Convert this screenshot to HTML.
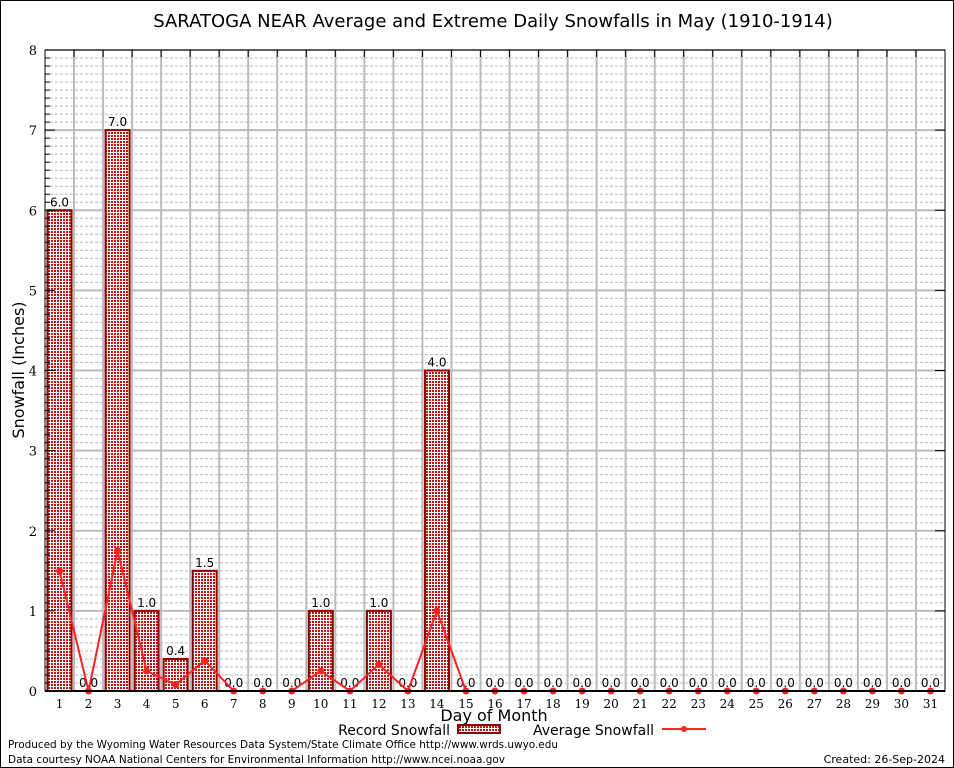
<!DOCTYPE html>
<html><head><meta charset="utf-8"><style>
body{margin:0;background:#fff}
svg{display:block;font-family:"DejaVu Sans","Liberation Sans",sans-serif}
</style></head><body>
<svg width="954" height="768" viewBox="0 0 954 768">
<defs>
<pattern id="chk" width="3" height="3" patternUnits="userSpaceOnUse">
<rect width="3" height="3" fill="#fff"/>
<rect width="2" height="2" fill="#c41010"/>
</pattern>
</defs>
<rect x="0.5" y="0.5" width="953" height="767" fill="#fff" stroke="#000"/>
<text x="493" y="27" font-size="18" text-anchor="middle">SARATOGA NEAR Average and Extreme Daily Snowfalls in May (1910-1914)</text>
<g id="grid"></g>
<g id="bars"></g>
<g id="line"></g>
<g id="axes"></g>
<text x="24" y="370" font-size="16" text-anchor="middle" transform="rotate(-90 24 370)">Snowfall (Inches)</text>
<text x="494" y="721" font-size="16" text-anchor="middle">Day of Month</text>
<g>
<text x="450" y="735" font-size="14" text-anchor="end">Record Snowfall</text>
<rect x="458" y="725" width="42" height="8" fill="url(#chk)" stroke="#8b0000" stroke-width="2"/>
<text x="654" y="735" font-size="14" text-anchor="end">Average Snowfall</text>
<line x1="662" y1="729" x2="706" y2="729" stroke="#f22" stroke-width="2"/>
<circle cx="684" cy="729" r="3" fill="#f22"/>
</g>
<text x="8" y="748" font-size="11" textLength="550" lengthAdjust="spacingAndGlyphs">Produced by the Wyoming Water Resources Data System/State Climate Office http://www.wrds.uwyo.edu</text>
<text x="8" y="763" font-size="11" textLength="497" lengthAdjust="spacingAndGlyphs">Data courtesy NOAA National Centers for Environmental Information http://www.ncei.noaa.gov</text>
<text x="945" y="763" font-size="11" text-anchor="end">Created: 26-Sep-2024</text>
</svg>
<script>
const days=[1,2,3,4,5,6,7,8,9,10,11,12,13,14,15,16,17,18,19,20,21,22,23,24,25,26,27,28,29,30,31];
const recordSnow=[6.0,0,7.0,1.0,0.4,1.5,0,0,0,1.0,0,1.0,0,4.0,0,0,0,0,0,0,0,0,0,0,0,0,0,0,0,0,0];
const avgSnow=[1.5,0,1.75,0.25,0.08,0.38,0,0,0,0.25,0,0.33,0,1.0,0,0,0,0,0,0,0,0,0,0,0,0,0,0,0,0,0];
const yTicks=[0,1,2,3,4,5,6,7,8];
const L=45,R=945,T=50,B=691,yMax=8;
const slot=(R-L)/days.length;
const xs=i=>L+slot*(i+0.5);
const ys=v=>B-(v/yMax)*(B-T);
const NS="http://www.w3.org/2000/svg";
function mk(tag,parent,attrs){const e=document.createElementNS(NS,tag);for(const k in attrs)e.setAttribute(k,attrs[k]);document.getElementById(parent).appendChild(e);return e;}
for(let m=1;m<yMax*10;m++){if(m%10===0)continue;const y=ys(m/10);
const e=mk('line','grid',{x1:L,x2:R,y1:y,y2:y,stroke:'#bbb','stroke-dasharray':'3,2','stroke-width':1});


const t=mk('line','axes',{x1:L,x2:L+5,y1:y,y2:y,stroke:'#000'});

}
yTicks.forEach(v=>{const y=ys(v);
const g=mk('line','grid',{x1:L,x2:R,y1:y,y2:y,stroke:'#bbb','stroke-width':2});


const t=mk('line','axes',{x1:L,x2:L+10,y1:y,y2:y,stroke:'#000'});


const t2=mk('line','axes',{x1:R-10,x2:R,y1:y,y2:y,stroke:'#000'});


const lb=mk('text','axes',{x:L-8,y:y+5,'font-size':13,'text-anchor':'end','font-family':'DejaVu Serif, serif'});
lb.textContent=v;

});
for(let i=1;i<days.length;i++){const x=L+slot*i;
const g=mk('line','grid',{x1:x,x2:x,y1:T,y2:B,stroke:'#bbb','stroke-width':2});


const t=mk('line','axes',{x1:x,x2:x,y1:T,y2:T+7,stroke:'#000'});

}
days.forEach((d,i)=>{const x=xs(i);const v=recordSnow[i];
if(v>0){const b=mk('rect','bars',{x:x-12,y:ys(v),width:24,height:B-ys(v),fill:'url(#chk)',stroke:'#8b0000','stroke-width':2});

}
const lb=mk('text','bars',{x:x,y:ys(v)-4,'font-size':12,'text-anchor':'middle'});
lb.textContent=v.toFixed(1);


const xl=mk('text','axes',{x:x,y:B+17,'font-size':12,'text-anchor':'middle','font-family':'DejaVu Serif, serif'});
xl.textContent=d;

});
const pts=avgSnow.map((v,i)=>xs(i)+','+ys(v)).join(' ');
const pl=mk('polyline','line',{points:pts,fill:'none',stroke:'#f22','stroke-width':2});


avgSnow.forEach((v,i)=>{const c=mk('circle','line',{cx:xs(i),cy:ys(v),r:3.5,fill:'#f22'});

});
const fr=mk('rect','axes',{x:L,y:T,width:R-L,height:B-T,fill:'none',stroke:'#000','stroke-width':1});


const ax=mk('line','axes',{x1:L,x2:R,y1:B,y2:B,stroke:'#000','stroke-width':2});


</script>
</body></html>
